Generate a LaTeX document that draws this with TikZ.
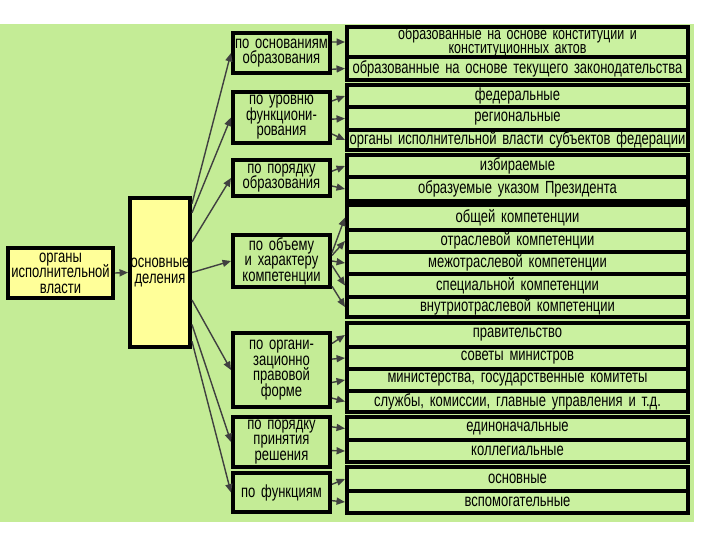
\documentclass[tikz,border=0pt]{standalone}
\usepackage{fontspec}
\setmainfont{Liberation Sans}[FakeStretch=0.74, WordSpace=1.6]
\usetikzlibrary{arrows.meta, calc}
\definecolor{bg}{RGB}{196,236,150}
\definecolor{itemfill}{RGB}{202,241,160}
\definecolor{pale}{RGB}{255,255,153}
\definecolor{arr}{RGB}{64,64,64}

\begin{document}
\lineskiplimit=-10pt
\begin{tikzpicture}[x=0.25mm, y=-0.25mm, >={Triangle[length=6pt,width=5pt]},
  font=\fontsize{12.5}{11}\selectfont,
  block/.style={draw, line width=1mm, fill=pale, align=center, inner sep=0pt},
  cat/.style={draw, line width=1mm, fill=bg, align=center, inner sep=0pt, minimum width=24.25mm},
  item/.style={draw, line width=1mm, fill=itemfill, align=center, inner sep=0pt, minimum width=85.25mm},
  link/.style={->, draw=arr, line width=1pt}]

\useasboundingbox (0,0) rectangle (720,540);
\fill[white] (0,0) rectangle (720,540);
\fill[bg] (0,24) rectangle (694,522);

% =================================================================================
% left: the root and the main split
% =================================================================================
\node[block, minimum width=26.25mm, minimum height=12.5mm] (org) at (60.5,273)
  {органы\\исполнительной\\власти};
\node[block, minimum width=15mm, minimum height=37.25mm, text width=15mm] (mid) at (160,272.5)
  {основные\\деления};
\draw[link] (org.east) -- (mid.west);

% =================================================================================
% middle: the seven grounds
% =================================================================================
\node[cat, minimum height=10mm]    (c1) at (281.5,53)    {по основаниям\\образования};
\node[cat, minimum height=12.75mm] (c2) at (281.5,117.5) {по уровню\\функциони-\\рования};
\node[cat, minimum height=9mm]     (c3) at (281.5,178)   {по порядку\\образования};
\node[cat, minimum height=13mm]    (c4) at (281.5,261)   {по объему\\и характеру\\компетенции};
\node[cat, minimum height=18.5mm]  (c5) at (281.5,370)   {по органи-\\зационно\\правовой\\форме};
\node[cat, minimum height=12.5mm]  (c6) at (281.5,442)   {по порядку\\принятия\\решения};
\node[cat, minimum height=9.75mm]  (c7) at (281.5,492.5) {по функциям};

\draw[link] ($(mid.north east)!.05!(mid.south east)$) -- (c1.west);
\draw[link] ($(mid.north east)!.11!(mid.south east)$) -- (c2.west);
\draw[link] ($(mid.north east)!.30!(mid.south east)$) -- (c3.west);
\draw[link] ($(mid.north east)!.50!(mid.south east)$) -- (c4.west);
\draw[link] ($(mid.north east)!.68!(mid.south east)$) -- (c5.west);
\draw[link] ($(mid.north east)!.84!(mid.south east)$) -- (c6.west);
\draw[link] ($(mid.north east)!.95!(mid.south east)$) -- (c7.west);

% =================================================================================
% right: the kinds
% =================================================================================
\node[item, minimum height=7.5mm, font=\fontsize{12}{10.5}\selectfont] (r11) at (517.5,42)
  {образованные на основе конституции и\\конституционных актов};
\node[item, minimum height=5.75mm] (r12) at (517.5,68.5) {образованные на основе текущего законодательства};

\node[item, minimum height=5.5mm]  (r21) at (517.5,96)    {федеральные};
\node[item, minimum height=5.75mm] (r22) at (517.5,118.5) {региональные};
\node[item, minimum height=5mm]    (r23) at (517.5,140)   {органы исполнительной власти субъектов федерации};

\node[item, minimum height=5.5mm]  (r31) at (517.5,166)   {избираемые};
\node[item, minimum height=6mm]    (r32) at (517.5,189)   {образуемые указом Президента};

\node[item, minimum height=6.25mm] (r41) at (517.5,217.5) {общей компетенции};
\node[item, minimum height=5.5mm]  (r42) at (517.5,241)   {отраслевой компетенции};
\node[item, minimum height=5.5mm]  (r43) at (517.5,263)   {межотраслевой компетенции};
\node[item, minimum height=5.75mm] (r44) at (517.5,285.5) {специальной компетенции};
\node[item, minimum height=5mm]    (r45) at (517.5,307)   {внутриотраслевой компетенции};

\node[item, minimum height=6mm]    (r51) at (517.5,335)   {правительство};
\node[item, minimum height=5.5mm]  (r52) at (517.5,358)   {советы министров};
\node[item, minimum height=5.5mm]  (r53) at (517.5,380)   {министерства, государственные комитеты};
\node[item, minimum height=5.25mm] (r54) at (517.5,401.5) {службы, комиссии, главные управления и т.д.};

\node[item, minimum height=5.75mm] (r61) at (517.5,428.5) {единоначальные};
\node[item, minimum height=5.5mm]  (r62) at (517.5,451)   {коллегиальные};

\node[item, minimum height=6mm]    (r71) at (517.5,479)   {основные};
\node[item, minimum height=5.5mm]  (r72) at (517.5,502)   {вспомогательные};

\draw[link] ($(c1.north east)!.25!(c1.south east)$) -- (r11.west);
\draw[link] ($(c1.north east)!.87!(c1.south east)$) -- (r12.west);

\draw[link] ($(c2.north east)!.20!(c2.south east)$) -- (r21.west);
\draw[link] ($(c2.north east)!.53!(c2.south east)$) -- (r22.west);
\draw[link] ($(c2.north east)!.80!(c2.south east)$) -- (r23.west);

\draw[link] ($(c3.north east)!.33!(c3.south east)$) -- (r31.west);
\draw[link] ($(c3.north east)!.70!(c3.south east)$) -- (r32.west);

\draw[link] ($(c4.north east)!.35!(c4.south east)$) -- (r41.west);
\draw[link] ($(c4.north east)!.40!(c4.south east)$) -- (r42.west);
\draw[link] ($(c4.north east)!.50!(c4.south east)$) -- (r43.west);
\draw[link] ($(c4.north east)!.58!(c4.south east)$) -- (r44.west);
\draw[link] ($(c4.north east)!.95!(c4.south east)$) -- (r45.west);

\draw[link] ($(c5.north east)!.16!(c5.south east)$) -- (r51.west);
\draw[link] ($(c5.north east)!.36!(c5.south east)$) -- (r52.west);
\draw[link] ($(c5.north east)!.66!(c5.south east)$) -- (r53.west);
\draw[link] ($(c5.north east)!.86!(c5.south east)$) -- (r54.west);

\draw[link] ($(c6.north east)!.22!(c6.south east)$) -- (r61.west);
\draw[link] ($(c6.north east)!.66!(c6.south east)$) -- (r62.west);

\draw[link] ($(c7.north east)!.31!(c7.south east)$) -- (r71.west);
\draw[link] ($(c7.north east)!.69!(c7.south east)$) -- (r72.west);

\end{tikzpicture}
\end{document}
